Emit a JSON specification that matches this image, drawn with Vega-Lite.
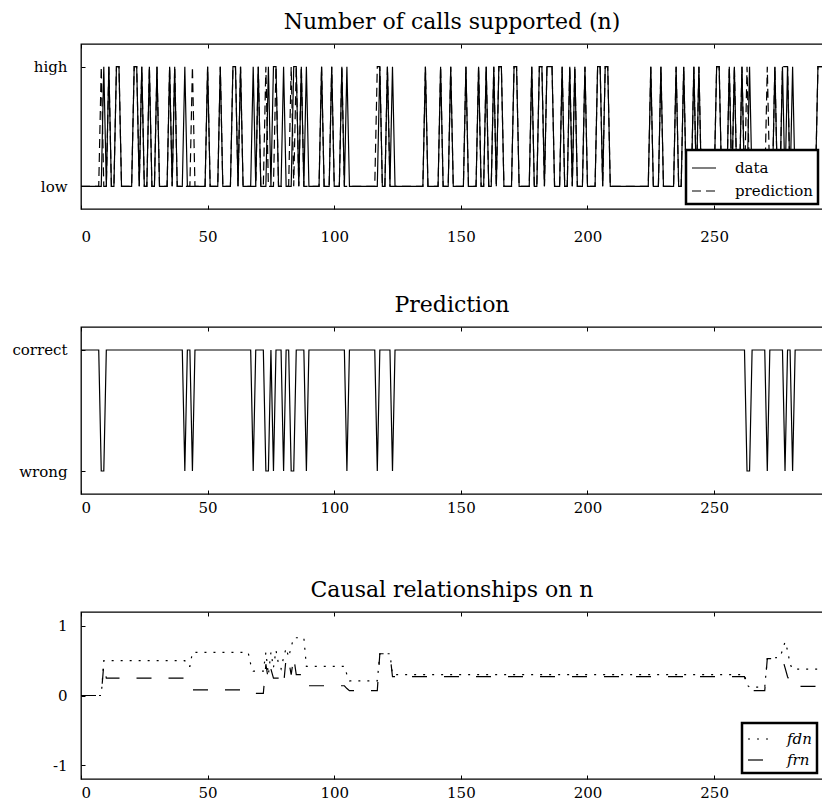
{
  "$schema": "https://vega.github.io/schema/vega-lite/v6.json",
  "padding": {"left": 0, "top": 9, "right": 0, "bottom": 0},
  "bounds": "flush",
  "spacing": 118,
  "resolve": {"scale": {"strokeDash": "independent"}, "legend": {"strokeDash": "independent"}},
  "config": {
    "font": "DejaVu Serif",
    "view": {"stroke": "black", "strokeWidth": 1.3},
    "axis": {
      "domain": false,
      "grid": false,
      "tickColor": "black",
      "tickSize": -4,
      "tickWidth": 1,
      "labelColor": "black",
      "labelFontSize": 15,
      "labelFont": "DejaVu Serif"
    },
    "axisY": {"minExtent": 80, "maxExtent": 80, "labelPadding": 18},
    "title": {"fontSize": 22, "fontWeight": "normal", "color": "black", "offset": 10, "font": "DejaVu Serif"},
    "legend": {
      "orient": "bottom-right",
      "offset": 4,
      "strokeColor": "black",
      "fillColor": "white",
      "padding": 5,
      "symbolType": "stroke",
      "symbolStrokeColor": "black",
      "symbolStrokeWidth": 1.2,
      "labelFontSize": 15,
      "labelFont": "DejaVu Serif",
      "labelColor": "black",
      "rowPadding": 2
    }
  },
  "datasets": {
    "calls": [
      {"t":0,"data":0,"prediction":0,"correct":1},{"t":1,"data":0,"prediction":0,"correct":1},{"t":2,"data":0,"prediction":0,"correct":1},{"t":3,"data":0,"prediction":0,"correct":1},
      {"t":4,"data":0,"prediction":0,"correct":1},{"t":5,"data":0,"prediction":0,"correct":1},{"t":6,"data":0,"prediction":0,"correct":1},{"t":7,"data":0,"prediction":0,"correct":1},
      {"t":8,"data":0,"prediction":1,"correct":0},{"t":9,"data":1,"prediction":0,"correct":0},{"t":10,"data":0,"prediction":0,"correct":1},{"t":11,"data":1,"prediction":1,"correct":1},
      {"t":12,"data":0,"prediction":0,"correct":1},{"t":13,"data":0,"prediction":0,"correct":1},{"t":14,"data":1,"prediction":1,"correct":1},{"t":15,"data":1,"prediction":1,"correct":1},
      {"t":16,"data":0,"prediction":0,"correct":1},{"t":17,"data":0,"prediction":0,"correct":1},{"t":18,"data":0,"prediction":0,"correct":1},{"t":19,"data":0,"prediction":0,"correct":1},
      {"t":20,"data":0,"prediction":0,"correct":1},{"t":21,"data":1,"prediction":1,"correct":1},{"t":22,"data":1,"prediction":1,"correct":1},{"t":23,"data":0,"prediction":0,"correct":1},
      {"t":24,"data":1,"prediction":1,"correct":1},{"t":25,"data":0,"prediction":0,"correct":1},{"t":26,"data":0,"prediction":0,"correct":1},{"t":27,"data":1,"prediction":1,"correct":1},
      {"t":28,"data":0,"prediction":0,"correct":1},{"t":29,"data":0,"prediction":0,"correct":1},{"t":30,"data":1,"prediction":1,"correct":1},{"t":31,"data":0,"prediction":0,"correct":1},
      {"t":32,"data":0,"prediction":0,"correct":1},{"t":33,"data":0,"prediction":0,"correct":1},{"t":34,"data":0,"prediction":0,"correct":1},{"t":35,"data":1,"prediction":1,"correct":1},
      {"t":36,"data":0,"prediction":0,"correct":1},{"t":37,"data":1,"prediction":1,"correct":1},{"t":38,"data":0,"prediction":0,"correct":1},{"t":39,"data":0,"prediction":0,"correct":1},
      {"t":40,"data":0,"prediction":0,"correct":1},{"t":41,"data":1,"prediction":0,"correct":0},{"t":42,"data":0,"prediction":0,"correct":1},{"t":43,"data":0,"prediction":0,"correct":1},
      {"t":44,"data":0,"prediction":1,"correct":0},{"t":45,"data":0,"prediction":0,"correct":1},{"t":46,"data":0,"prediction":0,"correct":1},{"t":47,"data":0,"prediction":0,"correct":1},
      {"t":48,"data":0,"prediction":0,"correct":1},{"t":49,"data":0,"prediction":0,"correct":1},{"t":50,"data":1,"prediction":1,"correct":1},{"t":51,"data":0,"prediction":0,"correct":1},
      {"t":52,"data":0,"prediction":0,"correct":1},{"t":53,"data":0,"prediction":0,"correct":1},{"t":54,"data":0,"prediction":0,"correct":1},{"t":55,"data":1,"prediction":1,"correct":1},
      {"t":56,"data":0,"prediction":0,"correct":1},{"t":57,"data":0,"prediction":0,"correct":1},{"t":58,"data":0,"prediction":0,"correct":1},{"t":59,"data":0,"prediction":0,"correct":1},
      {"t":60,"data":1,"prediction":1,"correct":1},{"t":61,"data":1,"prediction":1,"correct":1},{"t":62,"data":0,"prediction":0,"correct":1},{"t":63,"data":1,"prediction":1,"correct":1},
      {"t":64,"data":0,"prediction":0,"correct":1},{"t":65,"data":0,"prediction":0,"correct":1},{"t":66,"data":0,"prediction":0,"correct":1},{"t":67,"data":0,"prediction":0,"correct":1},
      {"t":68,"data":1,"prediction":0,"correct":0},{"t":69,"data":0,"prediction":0,"correct":1},{"t":70,"data":1,"prediction":1,"correct":1},{"t":71,"data":0,"prediction":0,"correct":1},
      {"t":72,"data":0,"prediction":0,"correct":1},{"t":73,"data":0,"prediction":1,"correct":0},{"t":74,"data":1,"prediction":0,"correct":0},{"t":75,"data":0,"prediction":0,"correct":1},
      {"t":76,"data":1,"prediction":0,"correct":0},{"t":77,"data":1,"prediction":1,"correct":1},{"t":78,"data":0,"prediction":0,"correct":1},{"t":79,"data":0,"prediction":0,"correct":1},
      {"t":80,"data":1,"prediction":0,"correct":0},{"t":81,"data":0,"prediction":0,"correct":1},{"t":82,"data":0,"prediction":0,"correct":1},{"t":83,"data":0,"prediction":1,"correct":0},
      {"t":84,"data":1,"prediction":0,"correct":0},{"t":85,"data":1,"prediction":1,"correct":1},{"t":86,"data":0,"prediction":0,"correct":1},{"t":87,"data":1,"prediction":1,"correct":1},
      {"t":88,"data":0,"prediction":0,"correct":1},{"t":89,"data":1,"prediction":0,"correct":0},{"t":90,"data":0,"prediction":0,"correct":1},{"t":91,"data":0,"prediction":0,"correct":1},
      {"t":92,"data":0,"prediction":0,"correct":1},{"t":93,"data":0,"prediction":0,"correct":1},{"t":94,"data":0,"prediction":0,"correct":1},{"t":95,"data":1,"prediction":1,"correct":1},
      {"t":96,"data":0,"prediction":0,"correct":1},{"t":97,"data":0,"prediction":0,"correct":1},{"t":98,"data":0,"prediction":0,"correct":1},{"t":99,"data":1,"prediction":1,"correct":1},
      {"t":100,"data":0,"prediction":0,"correct":1},{"t":101,"data":0,"prediction":0,"correct":1},{"t":102,"data":0,"prediction":0,"correct":1},{"t":103,"data":1,"prediction":1,"correct":1},
      {"t":104,"data":0,"prediction":0,"correct":1},{"t":105,"data":1,"prediction":0,"correct":0},{"t":106,"data":0,"prediction":0,"correct":1},{"t":107,"data":0,"prediction":0,"correct":1},
      {"t":108,"data":0,"prediction":0,"correct":1},{"t":109,"data":0,"prediction":0,"correct":1},{"t":110,"data":0,"prediction":0,"correct":1},{"t":111,"data":0,"prediction":0,"correct":1},
      {"t":112,"data":0,"prediction":0,"correct":1},{"t":113,"data":0,"prediction":0,"correct":1},{"t":114,"data":0,"prediction":0,"correct":1},{"t":115,"data":0,"prediction":0,"correct":1},
      {"t":116,"data":0,"prediction":0,"correct":1},{"t":117,"data":0,"prediction":1,"correct":0},{"t":118,"data":1,"prediction":1,"correct":1},{"t":119,"data":0,"prediction":0,"correct":1},
      {"t":120,"data":0,"prediction":0,"correct":1},{"t":121,"data":1,"prediction":1,"correct":1},{"t":122,"data":0,"prediction":0,"correct":1},{"t":123,"data":1,"prediction":0,"correct":0},
      {"t":124,"data":0,"prediction":0,"correct":1},{"t":125,"data":0,"prediction":0,"correct":1},{"t":126,"data":0,"prediction":0,"correct":1},{"t":127,"data":0,"prediction":0,"correct":1},
      {"t":128,"data":0,"prediction":0,"correct":1},{"t":129,"data":0,"prediction":0,"correct":1},{"t":130,"data":0,"prediction":0,"correct":1},{"t":131,"data":0,"prediction":0,"correct":1},
      {"t":132,"data":0,"prediction":0,"correct":1},{"t":133,"data":0,"prediction":0,"correct":1},{"t":134,"data":0,"prediction":0,"correct":1},{"t":135,"data":0,"prediction":0,"correct":1},
      {"t":136,"data":1,"prediction":1,"correct":1},{"t":137,"data":0,"prediction":0,"correct":1},{"t":138,"data":0,"prediction":0,"correct":1},{"t":139,"data":0,"prediction":0,"correct":1},
      {"t":140,"data":0,"prediction":0,"correct":1},{"t":141,"data":0,"prediction":0,"correct":1},{"t":142,"data":1,"prediction":1,"correct":1},{"t":143,"data":0,"prediction":0,"correct":1},
      {"t":144,"data":0,"prediction":0,"correct":1},{"t":145,"data":0,"prediction":0,"correct":1},{"t":146,"data":1,"prediction":1,"correct":1},{"t":147,"data":0,"prediction":0,"correct":1},
      {"t":148,"data":0,"prediction":0,"correct":1},{"t":149,"data":0,"prediction":0,"correct":1},{"t":150,"data":0,"prediction":0,"correct":1},{"t":151,"data":0,"prediction":0,"correct":1},
      {"t":152,"data":1,"prediction":1,"correct":1},{"t":153,"data":0,"prediction":0,"correct":1},{"t":154,"data":0,"prediction":0,"correct":1},{"t":155,"data":0,"prediction":0,"correct":1},
      {"t":156,"data":0,"prediction":0,"correct":1},{"t":157,"data":1,"prediction":1,"correct":1},{"t":158,"data":0,"prediction":0,"correct":1},{"t":159,"data":0,"prediction":0,"correct":1},
      {"t":160,"data":1,"prediction":1,"correct":1},{"t":161,"data":0,"prediction":0,"correct":1},{"t":162,"data":0,"prediction":0,"correct":1},{"t":163,"data":1,"prediction":1,"correct":1},
      {"t":164,"data":0,"prediction":0,"correct":1},{"t":165,"data":1,"prediction":1,"correct":1},{"t":166,"data":1,"prediction":1,"correct":1},{"t":167,"data":0,"prediction":0,"correct":1},
      {"t":168,"data":0,"prediction":0,"correct":1},{"t":169,"data":0,"prediction":0,"correct":1},{"t":170,"data":0,"prediction":0,"correct":1},{"t":171,"data":1,"prediction":1,"correct":1},
      {"t":172,"data":1,"prediction":1,"correct":1},{"t":173,"data":0,"prediction":0,"correct":1},{"t":174,"data":0,"prediction":0,"correct":1},{"t":175,"data":0,"prediction":0,"correct":1},
      {"t":176,"data":0,"prediction":0,"correct":1},{"t":177,"data":0,"prediction":0,"correct":1},{"t":178,"data":1,"prediction":1,"correct":1},{"t":179,"data":0,"prediction":0,"correct":1},
      {"t":180,"data":0,"prediction":0,"correct":1},{"t":181,"data":1,"prediction":1,"correct":1},{"t":182,"data":1,"prediction":1,"correct":1},{"t":183,"data":0,"prediction":0,"correct":1},
      {"t":184,"data":1,"prediction":1,"correct":1},{"t":185,"data":1,"prediction":1,"correct":1},{"t":186,"data":1,"prediction":1,"correct":1},{"t":187,"data":0,"prediction":0,"correct":1},
      {"t":188,"data":0,"prediction":0,"correct":1},{"t":189,"data":0,"prediction":0,"correct":1},{"t":190,"data":1,"prediction":1,"correct":1},{"t":191,"data":0,"prediction":0,"correct":1},
      {"t":192,"data":0,"prediction":0,"correct":1},{"t":193,"data":1,"prediction":1,"correct":1},{"t":194,"data":0,"prediction":0,"correct":1},{"t":195,"data":1,"prediction":1,"correct":1},
      {"t":196,"data":0,"prediction":0,"correct":1},{"t":197,"data":0,"prediction":0,"correct":1},{"t":198,"data":0,"prediction":0,"correct":1},{"t":199,"data":1,"prediction":1,"correct":1},
      {"t":200,"data":0,"prediction":0,"correct":1},{"t":201,"data":0,"prediction":0,"correct":1},{"t":202,"data":0,"prediction":0,"correct":1},{"t":203,"data":0,"prediction":0,"correct":1},
      {"t":204,"data":1,"prediction":1,"correct":1},{"t":205,"data":1,"prediction":1,"correct":1},{"t":206,"data":0,"prediction":0,"correct":1},{"t":207,"data":1,"prediction":1,"correct":1},
      {"t":208,"data":1,"prediction":1,"correct":1},{"t":209,"data":0,"prediction":0,"correct":1},{"t":210,"data":0,"prediction":0,"correct":1},{"t":211,"data":0,"prediction":0,"correct":1},
      {"t":212,"data":0,"prediction":0,"correct":1},{"t":213,"data":0,"prediction":0,"correct":1},{"t":214,"data":0,"prediction":0,"correct":1},{"t":215,"data":0,"prediction":0,"correct":1},
      {"t":216,"data":0,"prediction":0,"correct":1},{"t":217,"data":0,"prediction":0,"correct":1},{"t":218,"data":0,"prediction":0,"correct":1},{"t":219,"data":0,"prediction":0,"correct":1},
      {"t":220,"data":0,"prediction":0,"correct":1},{"t":221,"data":0,"prediction":0,"correct":1},{"t":222,"data":0,"prediction":0,"correct":1},{"t":223,"data":0,"prediction":0,"correct":1},
      {"t":224,"data":0,"prediction":0,"correct":1},{"t":225,"data":1,"prediction":1,"correct":1},{"t":226,"data":0,"prediction":0,"correct":1},{"t":227,"data":0,"prediction":0,"correct":1},
      {"t":228,"data":0,"prediction":0,"correct":1},{"t":229,"data":1,"prediction":1,"correct":1},{"t":230,"data":0,"prediction":0,"correct":1},{"t":231,"data":0,"prediction":0,"correct":1},
      {"t":232,"data":0,"prediction":0,"correct":1},{"t":233,"data":0,"prediction":0,"correct":1},{"t":234,"data":0,"prediction":0,"correct":1},{"t":235,"data":1,"prediction":1,"correct":1},
      {"t":236,"data":0,"prediction":0,"correct":1},{"t":237,"data":0,"prediction":0,"correct":1},{"t":238,"data":1,"prediction":1,"correct":1},{"t":239,"data":0,"prediction":0,"correct":1},
      {"t":240,"data":0,"prediction":0,"correct":1},{"t":241,"data":0,"prediction":0,"correct":1},{"t":242,"data":1,"prediction":1,"correct":1},{"t":243,"data":0,"prediction":0,"correct":1},
      {"t":244,"data":1,"prediction":1,"correct":1},{"t":245,"data":0,"prediction":0,"correct":1},{"t":246,"data":0,"prediction":0,"correct":1},{"t":247,"data":0,"prediction":0,"correct":1},
      {"t":248,"data":0,"prediction":0,"correct":1},{"t":249,"data":0,"prediction":0,"correct":1},{"t":250,"data":0,"prediction":0,"correct":1},{"t":251,"data":1,"prediction":1,"correct":1},
      {"t":252,"data":1,"prediction":1,"correct":1},{"t":253,"data":0,"prediction":0,"correct":1},{"t":254,"data":0,"prediction":0,"correct":1},{"t":255,"data":0,"prediction":0,"correct":1},
      {"t":256,"data":1,"prediction":1,"correct":1},{"t":257,"data":0,"prediction":0,"correct":1},{"t":258,"data":1,"prediction":1,"correct":1},{"t":259,"data":0,"prediction":0,"correct":1},
      {"t":260,"data":0,"prediction":0,"correct":1},{"t":261,"data":1,"prediction":1,"correct":1},{"t":262,"data":0,"prediction":0,"correct":1},{"t":263,"data":0,"prediction":1,"correct":0},
      {"t":264,"data":1,"prediction":0,"correct":0},{"t":265,"data":0,"prediction":0,"correct":1},{"t":266,"data":0,"prediction":0,"correct":1},{"t":267,"data":0,"prediction":0,"correct":1},
      {"t":268,"data":0,"prediction":0,"correct":1},{"t":269,"data":0,"prediction":0,"correct":1},{"t":270,"data":0,"prediction":0,"correct":1},{"t":271,"data":0,"prediction":1,"correct":0},
      {"t":272,"data":0,"prediction":0,"correct":1},{"t":273,"data":0,"prediction":0,"correct":1},{"t":274,"data":1,"prediction":1,"correct":1},{"t":275,"data":0,"prediction":0,"correct":1},
      {"t":276,"data":0,"prediction":0,"correct":1},{"t":277,"data":1,"prediction":1,"correct":1},{"t":278,"data":0,"prediction":1,"correct":0},{"t":279,"data":1,"prediction":1,"correct":1},
      {"t":280,"data":0,"prediction":0,"correct":1},{"t":281,"data":1,"prediction":0,"correct":0},{"t":282,"data":0,"prediction":0,"correct":1},{"t":283,"data":0,"prediction":0,"correct":1},
      {"t":284,"data":0,"prediction":0,"correct":1},{"t":285,"data":0,"prediction":0,"correct":1},{"t":286,"data":0,"prediction":0,"correct":1},{"t":287,"data":0,"prediction":0,"correct":1},
      {"t":288,"data":0,"prediction":0,"correct":1},{"t":289,"data":0,"prediction":0,"correct":1},{"t":290,"data":0,"prediction":0,"correct":1},{"t":291,"data":1,"prediction":1,"correct":1},
      {"t":292,"data":1,"prediction":1,"correct":1},{"t":293,"data":1,"prediction":1,"correct":1}
    ],
    "causal": [
      {"t":0,"fdn":0,"frn":0},{"t":8,"fdn":0,"frn":0},{"t":9,"fdn":0.5,"frn":0.45},{"t":10,"fdn":0.5,"frn":0.25},
      {"t":41,"fdn":0.5,"frn":0.25},{"t":42,"fdn":0.42,"frn":0.13},{"t":43,"fdn":0.42,"frn":0.12},{"t":44,"fdn":0.62,"frn":0.08},
      {"t":66,"fdn":0.62,"frn":0.08},{"t":67,"fdn":0.45,"frn":0.05},{"t":68,"fdn":0.35,"frn":0.03},{"t":72,"fdn":0.35,"frn":0.03},
      {"t":73,"fdn":0.62,"frn":0.45},{"t":74,"fdn":0.3,"frn":0.22},{"t":75,"fdn":0.62,"frn":0.38},{"t":76,"fdn":0.4,"frn":0.25},
      {"t":77,"fdn":0.65,"frn":0.25},{"t":78,"fdn":0.45,"frn":0.25},{"t":79,"fdn":0.38,"frn":0.25},{"t":80,"fdn":0.55,"frn":0.15},
      {"t":81,"fdn":0.68,"frn":0.55},{"t":82,"fdn":0.55,"frn":0.5},{"t":83,"fdn":0.7,"frn":0.3},{"t":84,"fdn":0.83,"frn":0.55},
      {"t":85,"fdn":0.83,"frn":0.3},{"t":88,"fdn":0.83,"frn":0.3},{"t":89,"fdn":0.42,"frn":0.14},{"t":104,"fdn":0.42,"frn":0.14},
      {"t":105,"fdn":0.3,"frn":0.1},{"t":106,"fdn":0.21,"frn":0.07},{"t":117,"fdn":0.21,"frn":0.07},{"t":118,"fdn":0.6,"frn":0.6},
      {"t":122,"fdn":0.6,"frn":0.6},{"t":123,"fdn":0.3,"frn":0.27},{"t":262,"fdn":0.3,"frn":0.27},{"t":263,"fdn":0.15,"frn":0.1},
      {"t":264,"fdn":0.12,"frn":0.07},{"t":270,"fdn":0.12,"frn":0.07},{"t":271,"fdn":0.53,"frn":0.53},{"t":276,"fdn":0.55,"frn":0.53},
      {"t":277,"fdn":0.65,"frn":0.53},{"t":278,"fdn":0.77,"frn":0.4},{"t":279,"fdn":0.65,"frn":0.27},{"t":280,"fdn":0.45,"frn":0.2},
      {"t":281,"fdn":0.38,"frn":0.13},{"t":293,"fdn":0.38,"frn":0.13}
    ]
  },
  "vconcat": [
    {
      "title": "Number of calls supported (n)",
      "width": 742,
      "height": 165,
      "data": {"name": "calls"},
      "layer": [
        {
          "transform": [{"fold": ["data", "prediction"], "as": ["series", "level"]}],
          "mark": {"type": "line", "color": "black", "strokeWidth": 1.2},
          "encoding": {
            "x": {"field": "t", "type": "quantitative", "title": null,
                  "scale": {"domain": [0, 293], "nice": false, "zero": false},
                  "axis": {"values": [0, 50, 100, 150, 200, 250], "labelPadding": 24}},
            "y": {"field": "level", "type": "quantitative", "title": null,
                  "scale": {"domain": [-0.19, 1.19], "nice": false},
                  "axis": {"values": [0, 1], "labelExpr": "datum.value == 1 ? 'high' : 'low'"}},
            "strokeDash": {"field": "series", "type": "nominal",
                           "scale": {"domain": ["data", "prediction"], "range": [[1, 0], [9, 5]]},
                           "legend": {"title": null, "symbolSize": 576, "labelOffset": 18, "offset": 5,
                                      "encode": {"legend": {"update": {"strokeWidth": {"value": 2.5}}}}}}
          }
        },
        {
          "mark": {"type": "rule", "opacity": 0},
          "encoding": {
            "x": {"field": "t", "type": "quantitative", "title": null,
                  "axis": {"orient": "top", "labels": false, "values": [0, 50, 100, 150, 200, 250]}}
          }
        }
      ],
      "resolve": {"axis": {"x": "independent"}}
    },
    {
      "title": "Prediction",
      "width": 742,
      "height": 167,
      "data": {"name": "calls"},
      "layer": [
        {
          "mark": {"type": "line", "color": "black", "strokeWidth": 1.2},
          "encoding": {
            "x": {"field": "t", "type": "quantitative", "title": null,
                  "scale": {"domain": [0, 293], "nice": false, "zero": false},
                  "axis": {"values": [0, 50, 100, 150, 200, 250], "labelPadding": 10}},
            "y": {"field": "correct", "type": "quantitative", "title": null,
                  "scale": {"domain": [-0.19, 1.19], "nice": false},
                  "axis": {"values": [0, 1], "labelExpr": "datum.value == 1 ? 'correct' : 'wrong'"}}
          }
        },
        {
          "mark": {"type": "rule", "opacity": 0},
          "encoding": {
            "x": {"field": "t", "type": "quantitative", "title": null,
                  "axis": {"orient": "top", "labels": false, "values": [0, 50, 100, 150, 200, 250]}}
          }
        }
      ],
      "resolve": {"axis": {"x": "independent"}}
    },
    {
      "title": "Causal relationships on n",
      "width": 742,
      "height": 167,
      "data": {"name": "causal"},
      "layer": [
        {
          "transform": [{"fold": ["fdn", "frn"], "as": ["series", "value"]}],
          "mark": {"type": "line", "color": "black", "strokeWidth": 1.2},
          "encoding": {
            "x": {"field": "t", "type": "quantitative", "title": null,
                  "scale": {"domain": [0, 293], "nice": false, "zero": false},
                  "axis": {"values": [0, 50, 100, 150, 200, 250], "labelPadding": 10}},
            "y": {"field": "value", "type": "quantitative", "title": null,
                  "scale": {"domain": [-1.2, 1.2], "nice": false},
                  "axis": {"values": [-1, 0, 1], "labelExpr": "datum.value == -1 ? '-1' : datum.label"}},
            "strokeDash": {"field": "series", "type": "nominal",
                           "scale": {"domain": ["fdn", "frn"], "range": [[2, 7], [15, 17]]},
                           "legend": {"title": null, "symbolSize": 400, "labelOffset": 18, "offset": 6,
                                      "labelFontStyle": "italic",
                                      "encode": {"legend": {"update": {"strokeWidth": {"value": 2.5}}}}}}
          }
        },
        {
          "mark": {"type": "rule", "opacity": 0},
          "encoding": {
            "x": {"field": "t", "type": "quantitative", "title": null,
                  "axis": {"orient": "top", "labels": false, "values": [0, 50, 100, 150, 200, 250]}}
          }
        }
      ],
      "resolve": {"axis": {"x": "independent"}}
    }
  ]
}
